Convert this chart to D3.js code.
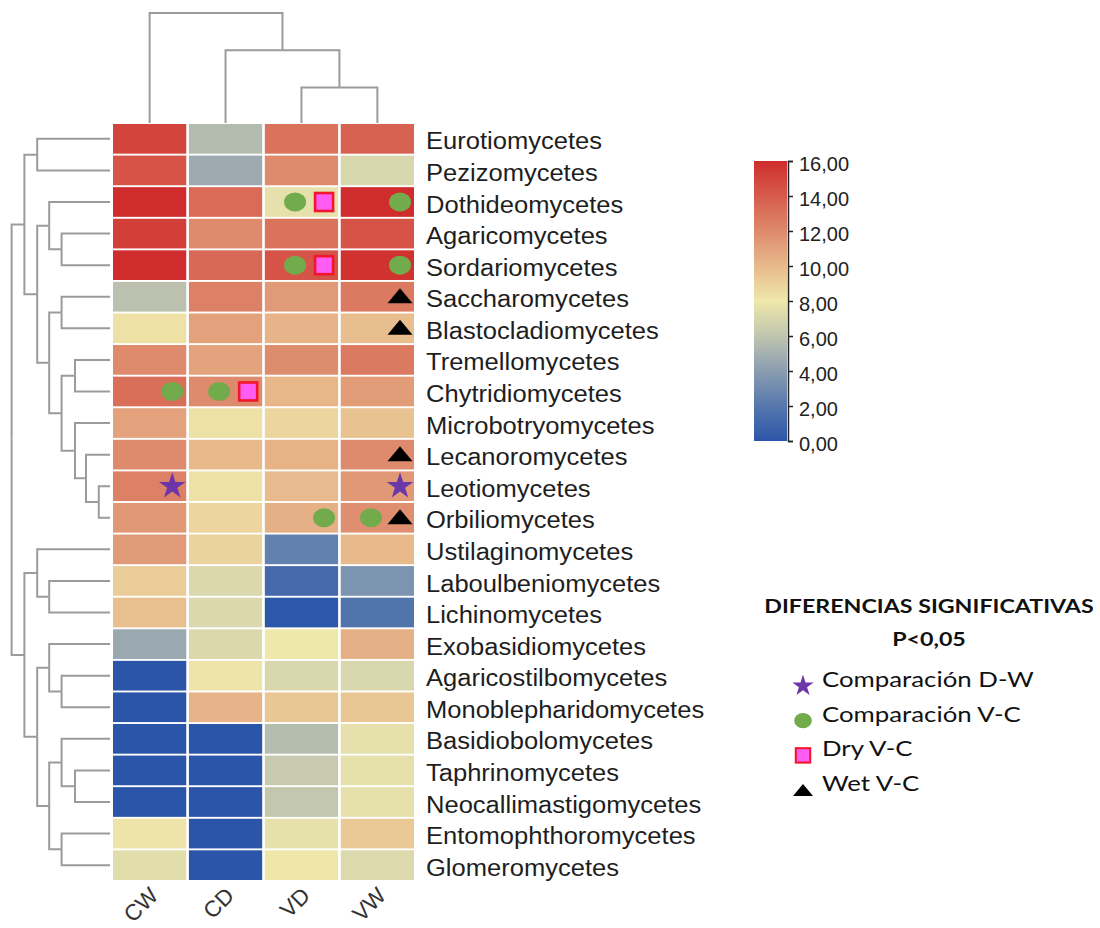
<!DOCTYPE html>
<html>
<head>
<meta charset="utf-8">
<script src="https://cdn.jsdelivr.net/npm/d3@7"></script>
<style>
  html, body { margin: 0; padding: 0; background: #fff; }
  svg { display: block; }
</style>
</head>
<body>
<svg id="chart" width="1100" height="928"></svg>
<script>
const columns = ["CW", "CD", "VD", "VW"];

const taxa = [
  "Eurotiomycetes", "Pezizomycetes", "Dothideomycetes", "Agaricomycetes",
  "Sordariomycetes", "Saccharomycetes", "Blastocladiomycetes", "Tremellomycetes",
  "Chytridiomycetes", "Microbotryomycetes", "Lecanoromycetes", "Leotiomycetes",
  "Orbiliomycetes", "Ustilaginomycetes", "Laboulbeniomycetes", "Lichinomycetes",
  "Exobasidiomycetes", "Agaricostilbomycetes", "Monoblepharidomycetes", "Basidiobolomycetes",
  "Taphrinomycetes", "Neocallimastigomycetes", "Entomophthoromycetes", "Glomeromycetes"
];

// one row per taxon: CW, CD, VD, VW
const values = [
  [15.0, 5.5, 13.0, 13.7],
  [14.3, 4.7, 12.0, 7.0],
  [16.0, 13.3, 7.6, 16.0],
  [15.2, 12.0, 13.0, 14.3],
  [16.0, 13.4, 14.3, 15.8],
  [5.8, 12.4, 11.3, 12.7],
  [8.3, 11.0, 10.2, 9.8],
  [12.0, 10.9, 11.9, 12.7],
  [13.2, 12.0, 10.1, 11.2],
  [11.0, 8.3, 8.8, 9.6],
  [12.0, 10.0, 10.3, 12.0],
  [12.4, 8.3, 9.9, 11.4],
  [11.4, 8.8, 10.4, 11.8],
  [11.3, 8.9, 2.5, 10.0],
  [9.2, 7.1, 1.2, 3.5],
  [9.7, 7.1, 0.1, 1.8],
  [4.6, 7.1, 8.0, 10.4],
  [0.0, 8.2, 7.0, 7.0],
  [0.0, 10.2, 9.4, 9.4],
  [0.0, 0.0, 5.6, 7.6],
  [0.0, 0.0, 6.3, 7.6],
  [0.0, 0.0, 6.1, 7.6],
  [8.2, 0.0, 7.6, 9.3],
  [7.4, 0.0, 8.1, 7.2]
];

const colorTicks = [0, 2, 4, 6, 8, 10, 12, 14, 16];

// significance marks, listed left to right inside each cell
const marks = [
  { taxon: "Dothideomycetes", col: "VD", type: "circle" },
  { taxon: "Dothideomycetes", col: "VD", type: "square" },
  { taxon: "Dothideomycetes", col: "VW", type: "circle" },
  { taxon: "Sordariomycetes", col: "VD", type: "circle" },
  { taxon: "Sordariomycetes", col: "VD", type: "square" },
  { taxon: "Sordariomycetes", col: "VW", type: "circle" },
  { taxon: "Saccharomycetes", col: "VW", type: "triangle" },
  { taxon: "Blastocladiomycetes", col: "VW", type: "triangle" },
  { taxon: "Chytridiomycetes", col: "CW", type: "circle" },
  { taxon: "Chytridiomycetes", col: "CD", type: "circle" },
  { taxon: "Chytridiomycetes", col: "CD", type: "square" },
  { taxon: "Lecanoromycetes", col: "VW", type: "triangle" },
  { taxon: "Leotiomycetes", col: "CW", type: "star" },
  { taxon: "Leotiomycetes", col: "VW", type: "star" },
  { taxon: "Orbiliomycetes", col: "VD", type: "circle" },
  { taxon: "Orbiliomycetes", col: "VW", type: "circle" },
  { taxon: "Orbiliomycetes", col: "VW", type: "triangle" }
];

const legendTitle = ["DIFERENCIAS SIGNIFICATIVAS", "P<0,05"];
const legendItems = [
  { type: "star", label: "Comparación D-W" },
  { type: "circle", label: "Comparación V-C" },
  { type: "square", label: "Dry V-C" },
  { type: "triangle", label: "Wet V-C" }
];

// dendrograms: [height, left, right], leaves are names
const rowTree = [24.6,
  [21.4,
    [18.2, "Eurotiomycetes", "Pezizomycetes"],
    [18.2,
      [15.2, "Dothideomycetes", [12.1, "Agaricomycetes", "Sordariomycetes"]],
      [15.2,
        [12.1, "Saccharomycetes", "Blastocladiomycetes"],
        [12.1,
          [8.75, "Tremellomycetes", "Chytridiomycetes"],
          [8.75, "Microbotryomycetes", [6, "Lecanoromycetes", [2.8, "Leotiomycetes", "Orbiliomycetes"]]]]]]],
  [21.4,
    [18.2, "Ustilaginomycetes", [15.2, "Laboulbeniomycetes", "Lichinomycetes"]],
    [18.2,
      [15.2, "Exobasidiomycetes", [12.1, "Agaricostilbomycetes", "Monoblepharidomycetes"]],
      [15.2,
        [12.1, "Basidiobolomycetes", [8.75, "Taphrinomycetes", "Neocallimastigomycetes"]],
        [12.1, "Entomophthoromycetes", "Glomeromycetes"]]]]];

const colTree = [27.5, "CW", [18.2, "CD", [8.9, "VD", "VW"]]];

const svg = d3.select("#chart");
const treeColor = "#9b9b9b";
const labelFont = "'Liberation Sans', Arial, sans-serif";
const legendFont = "Lato, 'Open Sans', sans-serif";

const x = d3.scaleBand().domain(columns).range([113, 414]).paddingInner(0.035);
const y = d3.scaleBand().domain(taxa).range([124, 880]).paddingInner(0.06);

const color = d3.scaleLinear()
  .domain(colorTicks)
  .range(["#2b55a8", "#5677ad", "#8a9db1", "#c0c5ae", "#efe8ab", "#e7b98b", "#de8a6c", "#d65b4c", "#cf2d2d"])
  .clamp(true);

// the source picture is a little wider than the fonts here, stretch text to match
function stretch(sel, k) {
  sel.each(function () {
    const w = this.getComputedTextLength();
    d3.select(this).attr("textLength", w * k).attr("lengthAdjust", "spacingAndGlyphs");
  });
}

// heatmap cells
const cells = taxa.flatMap((t, i) => columns.map((c, j) => ({ taxon: t, col: c, value: values[i][j] })));

svg.append("g")
  .selectAll("rect")
  .data(cells)
  .join("rect")
  .attr("x", d => x(d.col))
  .attr("y", d => y(d.taxon))
  .attr("width", x.bandwidth())
  .attr("height", y.bandwidth())
  .attr("fill", d => color(d.value));

// row labels
svg.append("g")
  .selectAll("text")
  .data(taxa)
  .join("text")
  .attr("x", 426)
  .attr("y", d => y(d) + y.bandwidth() / 2)
  .attr("dy", "0.46em")
  .attr("font-family", labelFont)
  .attr("font-size", 23)
  .attr("fill", "#1e1e1e")
  .text(d => d)
  .call(stretch, 1.11);

// column labels
svg.append("g")
  .selectAll("text")
  .data(columns)
  .join("text")
  .attr("transform", d => `translate(${x(d) + x.bandwidth() / 2 + 10},${897}) rotate(-45)`)
  .attr("text-anchor", "end")
  .attr("font-family", labelFont)
  .attr("font-size", 22.5)
  .attr("fill", "#333")
  .text(d => d);

// dendrograms
function drawTree(tree, leafPos, hScale, horizontal) {
  const root = d3.hierarchy(tree, d => Array.isArray(d) ? d.slice(1) : null);
  root.eachAfter(n => {
    n.h = n.children ? n.data[0] : 0;
    n.pos = n.children ? d3.mean(n.children, c => c.pos) : leafPos(n.data);
  });
  const line = l => horizontal
    ? `M${hScale(l.target.h)},${l.target.pos}H${hScale(l.source.h)}V${l.source.pos}`
    : `M${l.target.pos},${hScale(l.target.h)}V${hScale(l.source.h)}H${l.source.pos}`;
  svg.append("g")
    .attr("fill", "none")
    .attr("stroke", treeColor)
    .attr("stroke-width", 2)
    .selectAll("path")
    .data(root.links())
    .join("path")
    .attr("d", line);
}

drawTree(rowTree, t => y(t) + y.bandwidth() / 2, d3.scaleLinear().domain([0, 24.6]).range([110, 11.6]), true);
drawTree(colTree, c => x(c) + x.bandwidth() / 2, d3.scaleLinear().domain([0, 27.5]).range([123, 13]), false);

// marker shapes
function drawMark(sel, type, s) {
  if (type === "circle") {
    sel.append("ellipse").attr("rx", 11 * s).attr("ry", 9.5 * s).attr("fill", "#72ab4b");
  } else if (type === "square") {
    sel.append("rect")
      .attr("x", -9 * s).attr("y", -9 * s).attr("width", 18 * s).attr("height", 18 * s)
      .attr("fill", "#ff5cf4").attr("stroke", "#f2162c").attr("stroke-width", 2.6 * s);
  } else if (type === "triangle") {
    sel.append("path")
      .attr("d", `M${-12.5 * s},${7.5 * s}L${12.5 * s},${7.5 * s}L0,${-7.5 * s}Z`)
      .attr("fill", "#000");
  } else if (type === "star") {
    sel.append("path")
      .attr("d", d3.symbol().type(d3.symbolStar).size(220 * s * s)())
      .attr("fill", "#6a36a8");
  }
}

const byCell = d3.group(marks, d => d.taxon + "|" + d.col);
byCell.forEach(list => {
  list.forEach((m, k) => {
    const fromRight = list.length - 1 - k;
    const cx = x(m.col) + x.bandwidth() - 14 - fromRight * 29;
    const cy = y(m.taxon) + y.bandwidth() / 2 + (m.type === "triangle" ? -1 : 0);
    svg.append("g").attr("transform", `translate(${cx},${cy})`).call(drawMark, m.type, 1);
  });
});

// colour bar
const barX = 754, barW = 33, barTop = 161, barBottom = 441;
const barScale = d3.scaleLinear().domain([0, 16]).range([barBottom, barTop]);

const grad = svg.append("defs").append("linearGradient")
  .attr("id", "bar-grad")
  .attr("x1", 0).attr("y1", 1).attr("x2", 0).attr("y2", 0);
grad.selectAll("stop")
  .data(d3.range(0, 16.01, 0.5))
  .join("stop")
  .attr("offset", d => d / 16)
  .attr("stop-color", d => color(d));

svg.append("rect")
  .attr("x", barX).attr("y", barTop)
  .attr("width", barW).attr("height", barBottom - barTop)
  .attr("fill", "url(#bar-grad)");

const barAxis = svg.append("g")
  .attr("transform", `translate(${barX + barW + 1},0)`)
  .call(d3.axisRight(barScale)
    .tickValues(colorTicks)
    .tickSize(5)
    .tickPadding(6)
    .tickFormat(d => d3.format(".2f")(d).replace(".", ",")));
barAxis.selectAll("path, line").attr("stroke", "#222").attr("stroke-width", 1.5);
barAxis.selectAll("text")
  .attr("dy", "0.45em")
  .attr("font-family", labelFont)
  .attr("font-size", 20)
  .attr("fill", "#222");

// legend
const legend = svg.append("g");
legend.selectAll("text.title")
  .data(legendTitle)
  .join("text")
  .attr("class", "title")
  .attr("x", 929)
  .attr("y", (d, i) => 613 + i * 33)
  .attr("text-anchor", "middle")
  .attr("font-family", legendFont)
  .attr("font-weight", "bold")
  .attr("font-size", 19.5)
  .attr("fill", "#111")
  .text(d => d)
  .call(stretch, 1.19);

const item = legend.selectAll("g.item")
  .data(legendItems)
  .join("g")
  .attr("class", "item")
  .attr("transform", (d, i) => `translate(803,${686 + i * 34.7})`);

item.each(function (d) {
  d3.select(this).call(drawMark, d.type, 0.8);
});

item.append("text")
  .attr("x", 19)
  .attr("y", 1)
  .attr("font-family", legendFont)
  .attr("font-size", 21.5)
  .attr("fill", "#111")
  .text(d => d.label)
  .call(stretch, 1.2);
</script>
</body>
</html>
